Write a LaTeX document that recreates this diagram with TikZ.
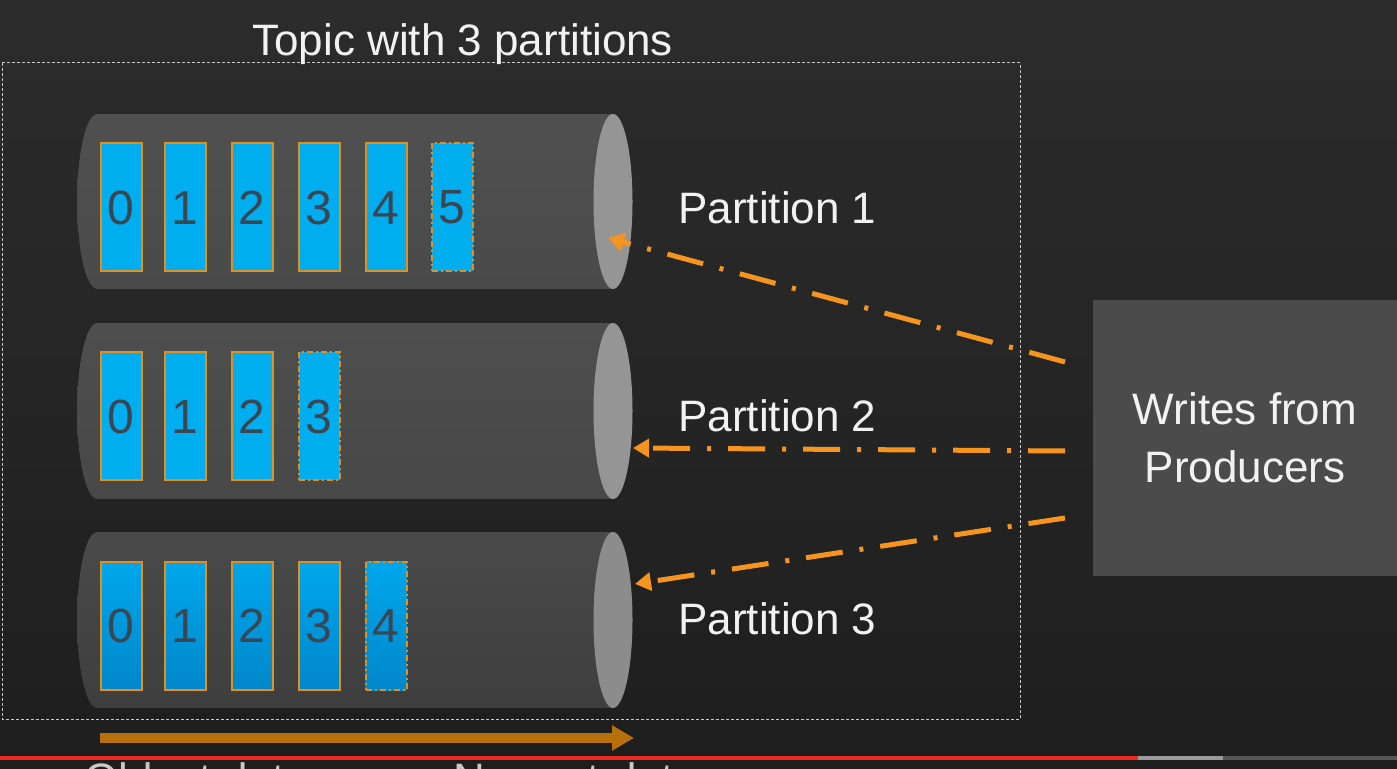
\documentclass[tikz,border=0pt]{standalone}
\usepackage{fontspec}
\setmainfont{Liberation Sans}
\usetikzlibrary{arrows.meta}
\definecolor{bgtop}{HTML}{2C2C2C}
\definecolor{bgbot}{HTML}{1E1E1E}
\definecolor{cylAt}{HTML}{505050}
\definecolor{cylAb}{HTML}{4A4A4A}
\definecolor{cylBt}{HTML}{4E4E4E}
\definecolor{cylBb}{HTML}{484848}
\definecolor{cylCt}{HTML}{4A4A4A}
\definecolor{cylCb}{HTML}{3E3E3E}
\definecolor{cylend}{HTML}{959595}
\definecolor{cylendC}{HTML}{8C8C8C}
\definecolor{recblue}{HTML}{00AEEF}
\definecolor{recblueT}{HTML}{00A6EC}
\definecolor{recblueB}{HTML}{0087CA}
\definecolor{recborder}{HTML}{E0901F}
\definecolor{digit}{HTML}{3A4651}
\definecolor{arrowor}{HTML}{F5951F}
\definecolor{timeor}{HTML}{B8700C}
\definecolor{framecol}{HTML}{C8C8C8}
\definecolor{txt}{HTML}{F2F2F2}
\definecolor{prodfill}{HTML}{4B4B4B}
\definecolor{ytred}{HTML}{EE2B1E}
\definecolor{ytgray}{HTML}{9A9A9A}
\definecolor{ytdark}{HTML}{555555}
\begin{document}
\begin{tikzpicture}[x=0.5pt,y=-0.5pt,
  rec/.style={draw=recborder, line width=1pt, fill=recblue, minimum width=20.5pt,
    minimum height=64pt, inner sep=0pt, text=digit, font=\fontsize{24}{24}\selectfont},
  recnew/.style={dash pattern=on 3pt off 1.5pt on 1pt off 1.5pt},
  recC/.style={rec, top color=recblueT, bottom color=recblueB},
  lbl/.style={text=txt, inner sep=0pt, font=\fontsize{22}{26}\selectfont},
  writearrow/.style={draw=arrowor, line width=2.5pt,
    dash pattern=on 18.5pt off 8.5pt on 2pt off 8.5pt,
    -{Triangle[length=8pt,width=9pt]}},
  frame/.style={draw=framecol, line width=0.5pt, dash pattern=on 1.5pt off 1pt},
  prodbox/.style={fill=prodfill, minimum width=152pt, minimum height=138pt,
    text=txt, align=center, font=\fontsize{22}{29}\selectfont, inner sep=0pt}
]
\useasboundingbox (0,0) rectangle (1397,769);
\fill[top color=bgtop, bottom color=bgbot] (0,0) rectangle (1397,769);

% cylinders
\foreach \t/\b/\ct/\cb/\ce in {114/289/cylAt/cylAb/cylend, 323/499/cylBt/cylBb/cylend, 532/708/cylCt/cylCb/cylendC}{
  \fill[top color=\ct, bottom color=\cb] (613,\b) -- (97,\b)
     arc[start angle=90, end angle=270, x radius=20, y radius={(\b-\t)/2}]
     -- (613,\t) -- cycle;
  \fill[\ce] (613,{(\t+\b)/2}) ellipse (19.5 and {(\b-\t)/2});
}

% partition 1 records
\foreach \x/\d in {121/0,185/1,252/2,319/3,386/4}{
  \node[rec] (pa\d) at (\x,207.5) {\d};
}
\node[rec, recnew] (pa5) at (452,207.5) {5};

% partition 2 records
\foreach \x/\d in {121/0,185/1,252/2}{
  \node[rec] (pb\d) at (\x,416.5) {\d};
}
\node[rec, recnew] (pb3) at (319,416.5) {3};

% partition 3 records
\foreach \x/\d in {121/0,185/1,252/2,319/3}{
  \node[recC] (pc\d) at (\x,626) {\d};
}
\node[recC, recnew] (pc4) at (386,626) {4};

% topic frame and title
\draw[frame] (2,63) rectangle (1020,719);
\node[lbl, anchor=base west, font=\fontsize{22}{26}\selectfont] (title) at (252,56) {Topic with 3 partitions};

% partition labels
\node[lbl, anchor=base west] (lab1) at (678,224) {Partition 1};
\node[lbl, anchor=base west] (lab2) at (678,432) {Partition 2};
\node[lbl, anchor=base west] (lab3) at (678,634) {Partition 3};

% producer box
\node[prodbox] (prod) at (1245,438) {Writes from\\Producers};

% write arrows
\coordinate (s1) at (1065,362);
\coordinate (s2) at (1065,451);
\coordinate (s3) at (1065,518);
\coordinate (e1) at (608,238);
\coordinate (e2) at (633,448);
\coordinate (e3) at (635,584);
\draw[writearrow] (s1) -- (e1);
\draw[writearrow] (s2) -- (e2);
\draw[writearrow] (s3) -- (e3);

% time arrow
\coordinate (t0) at (100,738);
\coordinate (t1) at (634,738);
\draw[timeor, line width=5pt, -{Triangle[length=11pt,width=12pt]}] (t0) -- (t1);

% video progress bar
\fill[ytdark] (1223,756) rectangle (1397,760);
\fill[ytgray] (1138,756) rectangle (1223,760);
\fill[ytred] (0,756) rectangle (1138,760);

% cut-off captions (cut by the lower edge, as in the reference)
\begin{scope}
\clip (0,760) rectangle (1397,769);
\node[lbl, anchor=base west, text=framecol] (old) at (84,794) {Oldest data};
\node[lbl, anchor=base west, text=framecol] (new) at (453,794) {Newest data};
\end{scope}
\end{tikzpicture}
\end{document}
